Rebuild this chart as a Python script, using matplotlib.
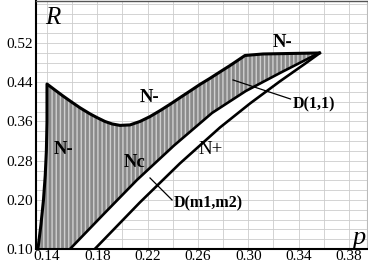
import matplotlib
matplotlib.use("Agg")
import matplotlib.pyplot as plt
import numpy as np

# left edge of the N- region (p, R)
left_p = [0.1328, 0.1352, 0.1372, 0.1386, 0.1395, 0.1400, 0.1400]
left_R = [0.100, 0.150, 0.200, 0.250, 0.300, 0.360, 0.4364]

# upper boundary N-
top_p = [0.1400, 0.1464, 0.1527, 0.1599, 0.1662, 0.1742, 0.1797, 0.1861, 0.1917,
         0.1980, 0.2060, 0.2139, 0.2219, 0.2298, 0.2378, 0.2457, 0.2537, 0.2616,
         0.2696, 0.2775, 0.2855, 0.2910, 0.2974, 0.3117, 0.3332, 0.3562]
top_R = [0.4364, 0.4240, 0.4120, 0.3990, 0.3880, 0.3755, 0.3680, 0.3600, 0.3550,
         0.3520, 0.3530, 0.3600, 0.3700, 0.3820, 0.3950, 0.4085, 0.4220, 0.4355,
         0.4480, 0.4610, 0.4740, 0.4835, 0.4945, 0.4976, 0.4986, 0.4996]

# Nc line (lower edge of D(1,1))
nc_p = [0.1583, 0.1850, 0.2115, 0.2410, 0.2712, 0.2980, 0.3252, 0.3410, 0.3562]
nc_R = [0.100, 0.171, 0.2407, 0.311, 0.3773, 0.422, 0.4588, 0.4795, 0.4996]

# N+ line
np_p = [0.1780, 0.2139, 0.2457, 0.2775, 0.3014, 0.3252, 0.3451, 0.3570]
np_R = [0.100, 0.1951, 0.2746, 0.3477, 0.3967, 0.4419, 0.4777, 0.4996]

xticks = [0.14, 0.18, 0.22, 0.26, 0.30, 0.34, 0.38]
yticks = [0.10, 0.20, 0.28, 0.36, 0.44, 0.52]

plt.rcParams["font.family"] = "Liberation Serif"
plt.rcParams["hatch.linewidth"] = 1.0

fig = plt.figure(figsize=(3.68, 2.65), dpi=100)
ax = fig.add_axes([36 / 368, 16 / 265, 331 / 368, 248 / 265])
ax.set_xlim(0.13126, 0.3944)
ax.set_ylim(0.10, 0.6056)

# grid every 0.02
ax.set_xticks(np.arange(0.14, 0.395, 0.02), minor=True)
ax.set_yticks(np.arange(0.10, 0.605, 0.02), minor=True)
ax.grid(which="both", color="#cccccc", lw=0.6, zorder=0)
ax.set_axisbelow(True)

# D(1,1) region
reg_p = left_p + top_p[1:] + nc_p[::-1][1:]
reg_R = left_R + top_R[1:] + nc_R[::-1][1:]
ax.fill(reg_p, reg_R, facecolor="#8a8a8a", edgecolor="#cfcfcf", hatch="||||",
        lw=0, zorder=2)

# white strip D(m1,m2)
strip_p = nc_p + np_p[::-1]
strip_R = nc_R + np_R[::-1]
ax.fill(strip_p, strip_R, color="white", lw=0, zorder=2)

ax.plot(left_p + top_p[1:], left_R + top_R[1:], color="black", lw=2.2,
        solid_joinstyle="round", zorder=4)
ax.plot(nc_p, nc_R, color="black", lw=1.9, solid_joinstyle="round", zorder=4)
ax.plot(np_p, np_R, color="black", lw=1.9, solid_joinstyle="round", zorder=4)

# labels
bold = dict(fontweight="bold", ha="center", va="center", zorder=5)
ax.text(0.3276, 0.520, "N-", fontsize=13.5, **bold)
ax.text(0.2219, 0.408, "N-", fontsize=13.5, **bold)
ax.text(0.1535, 0.302, "N-", fontsize=13.5, **bold)
ax.text(0.2100, 0.2755, "Nc", fontsize=13.5, **bold)
ax.text(0.2704, 0.302, "N+", fontsize=13.5, fontweight="normal",
        ha="center", va="center", zorder=5)
ax.text(0.3522, 0.394, "D(1,1)", fontsize=11.5, **bold)
ax.text(0.2680, 0.192, "D(m1,m2)", fontsize=11.5, **bold)
ax.plot([0.2879, 0.3336], [0.4446, 0.4058], color="black", lw=0.9, zorder=5)
ax.plot([0.2219, 0.2394], [0.2448, 0.2000], color="black", lw=0.9, zorder=5)

ax.text(0.1448, 0.571, "R", fontsize=18, style="italic", ha="center", va="center")
ax.text(0.388, 0.1225, "p", fontsize=19, style="italic", ha="center", va="center")

ax.set_xticks(xticks)
ax.set_xticklabels([f"{v:.2f}" for v in xticks])
ax.set_yticks(yticks)
ax.set_yticklabels([f"{v:.2f}" for v in yticks])
ax.tick_params(which="both", length=0, labelsize=11)
ax.tick_params(axis="x", pad=0.5)
ax.tick_params(axis="y", pad=2)

ax.spines["left"].set_linewidth(1.5)
ax.spines["bottom"].set_linewidth(1.5)
ax.spines["top"].set_color("#555555")
ax.spines["top"].set_linewidth(1.0)
ax.spines["right"].set_color("#bbbbbb")
ax.spines["right"].set_linewidth(0.8)

fig.savefig("out.png", dpi=100, facecolor="white")
